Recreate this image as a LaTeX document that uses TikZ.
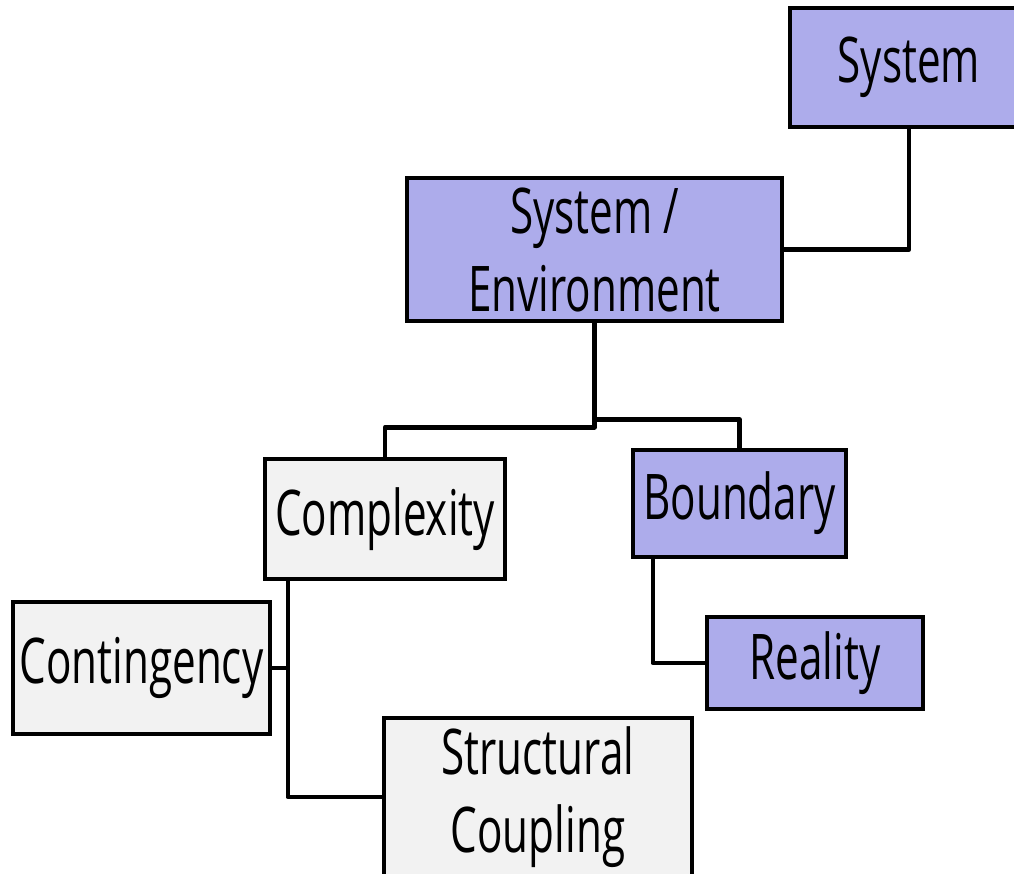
\documentclass[tikz,border=0pt]{standalone}
\usepackage{fontspec}
\setmainfont{Open Sans}[FakeStretch=0.67]
\usetikzlibrary{positioning}
\definecolor{boxpurple}{RGB}{173,172,235}
\definecolor{boxgray}{RGB}{242,242,242}
\tikzset{
	concept/.style={draw=black, line width=4.5pt, inner sep=0pt, align=center,
		font=\fontsize{63}{78}\selectfont},
	mainbox/.style={concept, fill=boxpurple},
	sidebox/.style={concept, fill=boxgray},
	link/.style={draw=black, line width=4.5pt, line join=round}
}
\begin{document}
\begin{tikzpicture}[x=1pt, y=-1pt]
		\useasboundingbox (0,0) rectangle (1014,873);
		% upper branch
		\node[mainbox, minimum width=238pt, minimum height=119pt] (system) at (909,67.5) {System};
		\node[mainbox, minimum width=375pt, minimum height=143pt] (sysenv) at (594.5,249.5) {System /\\Environment};
		\node[sidebox, minimum width=240pt, minimum height=120pt] (complexity) at (385,519) {Complexity};
		\node[mainbox, minimum width=213pt, minimum height=107pt] (boundary) at (739.5,503.5) {Boundary};
		\node[mainbox, minimum width=216pt, minimum height=92pt] (reality) at (815,663) {Reality};
		% lower branch
		\node[sidebox, minimum width=257pt, minimum height=132pt] (contingency) at (141.5,668) {Contingency};
		\node[sidebox, minimum width=308pt, minimum height=158pt] (structural) at (538,797) {Structural\\Coupling};

		\coordinate (cbus) at ([xshift=25pt]complexity.south west);
		\coordinate (bbus) at ([xshift=22pt]boundary.south west);

		\draw[link] (system.south) |- (sysenv.east);
		\draw[link] (sysenv.south) -- ++(0,104) -| (complexity.north);
		\draw[link] (sysenv.south) -- ++(0,96) -| (boundary.north);
		\draw[link] (cbus) |- (structural.west);
		\draw[link] (contingency.east) -- (contingency.east -| cbus);
		\draw[link] (bbus) |- (reality.west);
	\end{tikzpicture}
\end{document}
